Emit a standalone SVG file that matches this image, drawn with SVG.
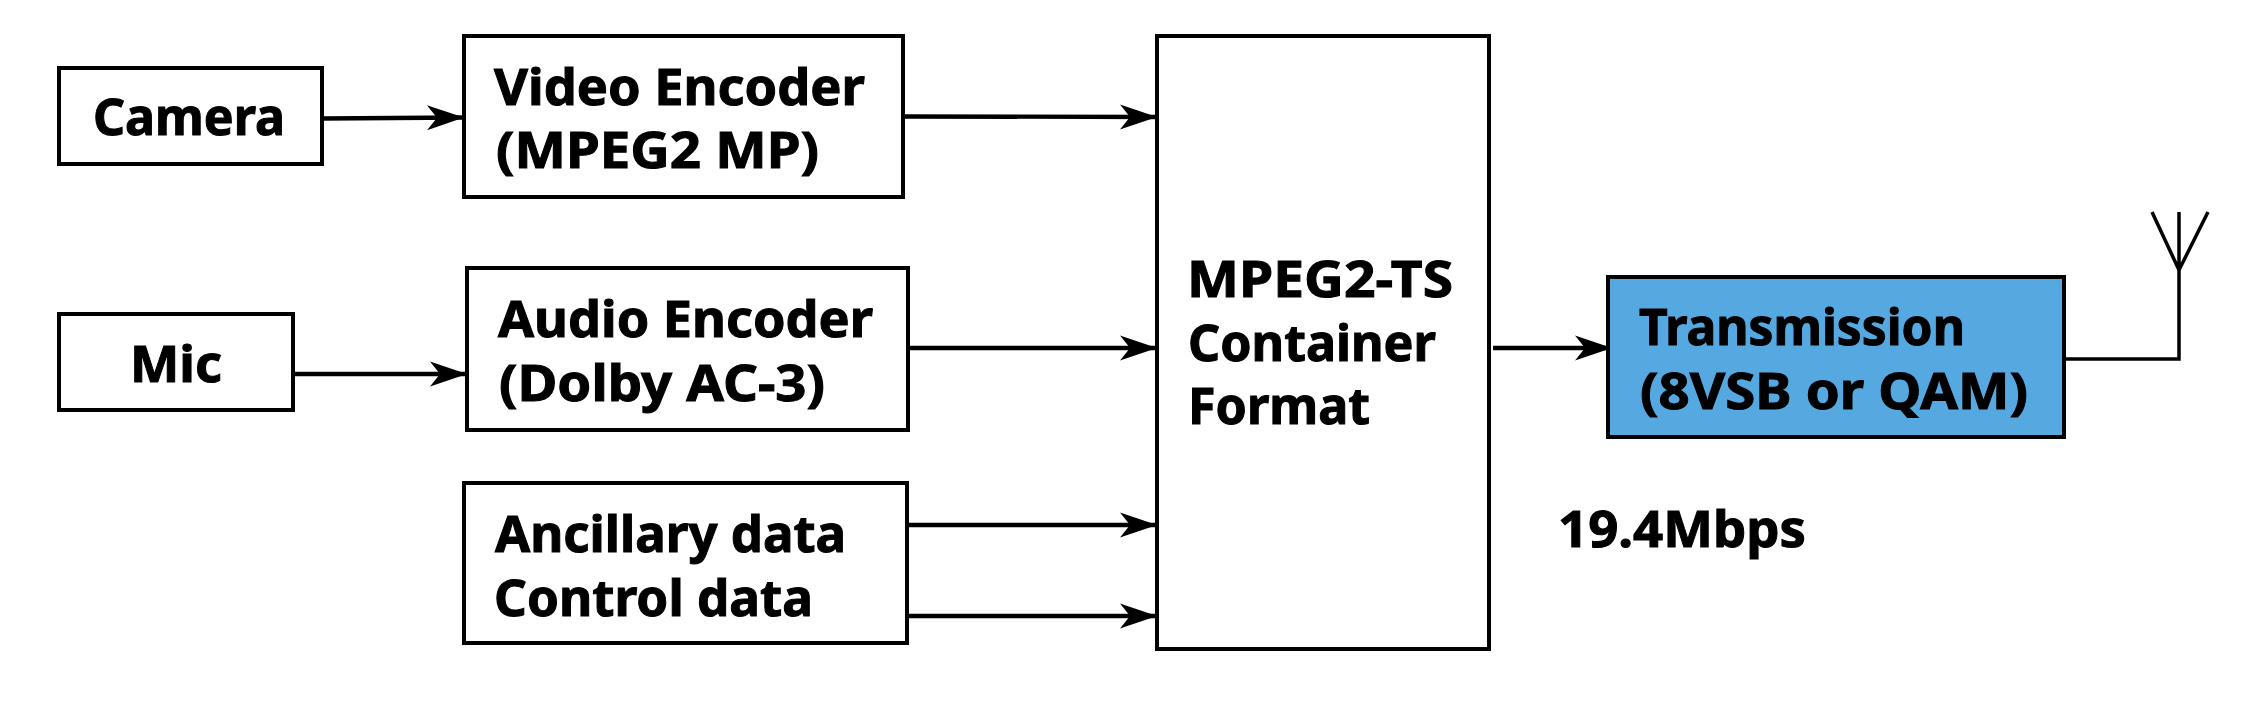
<svg xmlns="http://www.w3.org/2000/svg" width="2248" height="708" viewBox="0 0 2248 708">
<style>
text{font-family:"Noto Sans","Open Sans","DejaVu Sans",sans-serif;font-weight:700;font-size:50px;fill:#000;stroke:#000;stroke-width:1}
.box{fill:#fff;stroke:#000;stroke-width:4}
.blue{fill:#55a8e0}
.c{fill:none;stroke:#000;stroke-width:4.300}
.t{fill:none;stroke:#000;stroke-width:3.500}
.a{marker-end:url(#arr)}
</style>
<defs>
<marker id="arr" markerUnits="userSpaceOnUse" markerWidth="40" markerHeight="30" refX="37" refY="12.500" orient="auto" overflow="visible"><path d="M0 0L37 12.500L0 25L10 12.500Z" fill="#000"/></marker>
</defs>
<rect width="2248" height="708" fill="#fff"/>
<g id="connectors">
<path class="c a" d="M322 118.500L464 117.500"/>
<path class="c a" d="M903 116.500L1157 117"/>
<path class="c a" d="M294 374L467 374"/>
<path class="c a" d="M908 348L1157 348"/>
<path class="c a" d="M907 525L1157 525"/>
<path class="c a" d="M907 616L1157 616"/>
<path class="c a" d="M1493 348L1612 348"/>
<path class="t" d="M2064 359L2179 359L2179 212M2152 212L2179 270L2208 212"/>
</g>
<g id="camera"><rect class="box" x="59" y="68" width="263" height="96"/><text x="93" y="135" textLength="192" lengthAdjust="spacingAndGlyphs">Camera</text></g>
<g id="video-encoder"><rect class="box" x="464" y="36" width="439" height="161"/><text x="494" y="105" textLength="371" lengthAdjust="spacingAndGlyphs">Video Encoder</text><text x="496" y="168" textLength="323" lengthAdjust="spacingAndGlyphs">(MPEG2 MP)</text></g>
<g id="mic"><rect class="box" x="59" y="314" width="234" height="96"/><text x="130" y="382" textLength="92" lengthAdjust="spacingAndGlyphs">Mic</text></g>
<g id="audio-encoder"><rect class="box" x="467" y="268" width="441" height="162"/><text x="498" y="337" textLength="375" lengthAdjust="spacingAndGlyphs">Audio Encoder</text><text x="499" y="401" textLength="326" lengthAdjust="spacingAndGlyphs">(Dolby AC-3)</text></g>
<g id="data"><rect class="box" x="464" y="483" width="443" height="160"/><text x="495" y="552" textLength="351" lengthAdjust="spacingAndGlyphs">Ancillary data</text><text x="494" y="616" textLength="319" lengthAdjust="spacingAndGlyphs">Control data</text></g>
<g id="mpeg2-ts"><rect class="box" x="1157" y="36" width="332" height="613"/><text x="1187" y="297" textLength="266" lengthAdjust="spacingAndGlyphs">MPEG2-TS</text><text x="1188" y="361" textLength="248" lengthAdjust="spacingAndGlyphs">Container</text><text x="1188" y="424" textLength="182" lengthAdjust="spacingAndGlyphs">Format</text></g>
<g id="transmission"><rect class="box blue" x="1608" y="277" width="456" height="160"/><text x="1639" y="345" textLength="326" lengthAdjust="spacingAndGlyphs">Transmission</text><text x="1640" y="409" textLength="388" lengthAdjust="spacingAndGlyphs">(8VSB or QAM)</text></g>
<g id="rate"><text x="1558" y="547" textLength="248" lengthAdjust="spacingAndGlyphs">19.4Mbps</text></g>
</svg>
